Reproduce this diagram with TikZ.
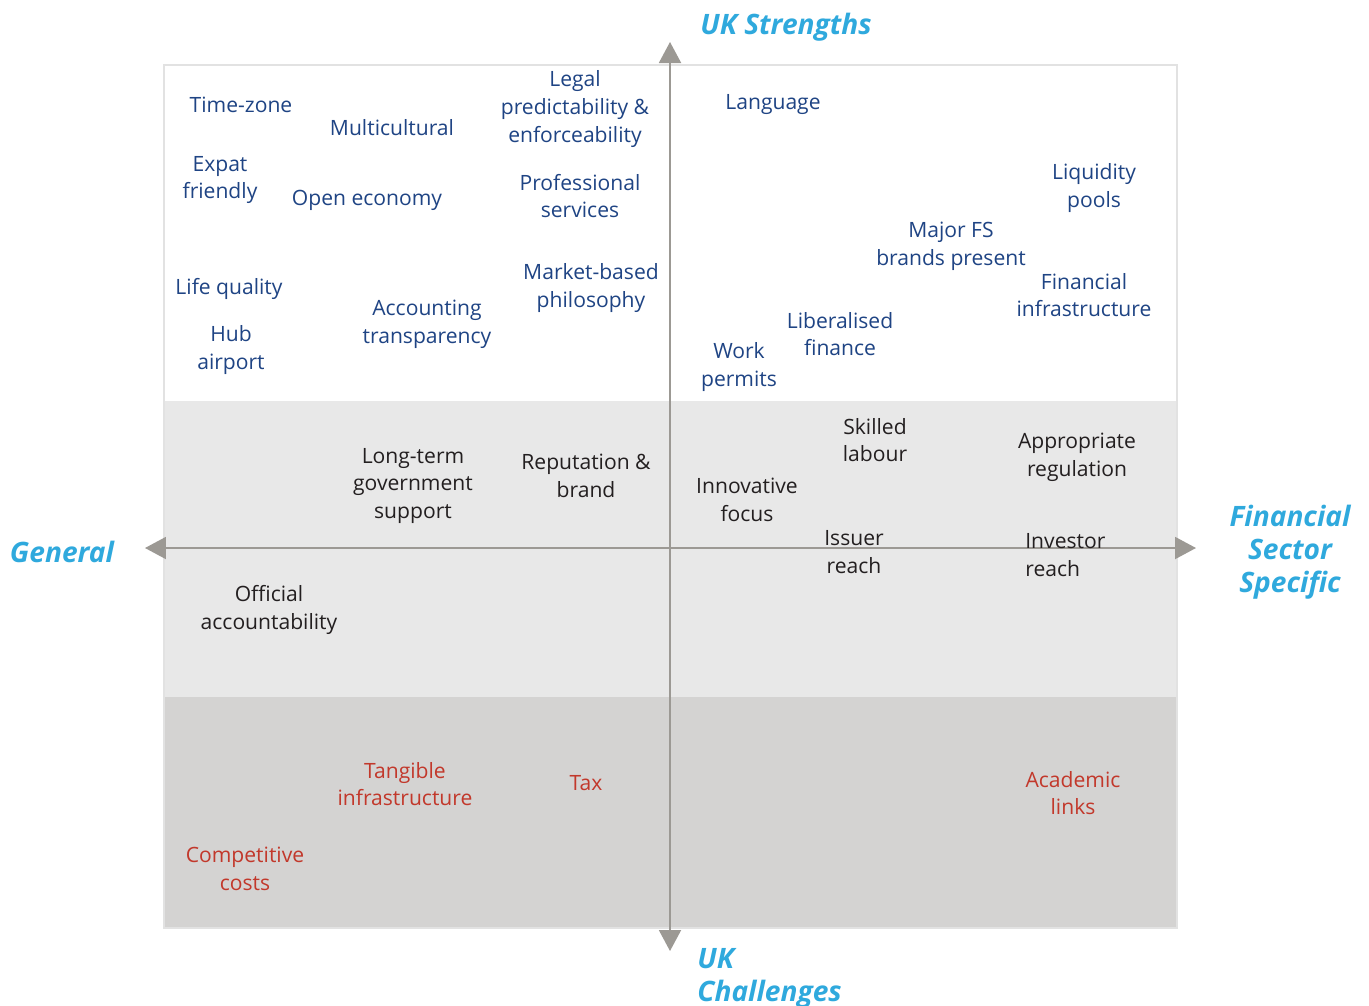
\documentclass[tikz,border=0pt]{standalone}
\usepackage{fontspec}
\setmainfont{Open Sans}
\usetikzlibrary{arrows.meta}
\definecolor{fsblue}{HTML}{1F4484}
\definecolor{fsred}{HTML}{C2382B}
\definecolor{fscyan}{HTML}{2FA9DD}
\definecolor{fsgrey}{HTML}{9C9994}
\definecolor{fsblack}{HTML}{231F20}
\definecolor{midband}{HTML}{E8E8E8}
\definecolor{lowband}{HTML}{D4D3D2}
\definecolor{frameline}{HTML}{E2E2E2}
\begin{document}
\begin{tikzpicture}[x=0.02cm,y=-0.02cm]
  \tikzstyle{every node}=[font=\fontsize{12}{15.8}\selectfont, align=center, inner sep=0pt]
  \tikzstyle{item}=[yshift=-1.7pt]
  \tikzstyle{strength}=[item, text=fsblue]
  \tikzstyle{neutral}=[item, text=fsblack]
  \tikzstyle{challenge}=[item, text=fsred]
  \tikzstyle{heading}=[item, text=fscyan, font=\fontsize{16}{18.8}\selectfont\bfseries\itshape]
  \tikzstyle{axis}=[fsgrey, line width=1.1pt, {Triangle[width=0.44cm,length=0.42cm]}-{Triangle[width=0.44cm,length=0.42cm]}]
  \useasboundingbox (0,0) rectangle (1369,1005);
  \fill[white] (0,0) rectangle (1369,1005);
  \fill[midband] (164,401) rectangle (1177,697);
  \fill[lowband] (164,697) rectangle (1177,928);
  \draw[frameline, line width=1pt] (164,65) rectangle (1177,928);
  % axes
  \coordinate (top) at (670,42);
  \coordinate (bottom) at (670,951);
  \coordinate (left) at (145,548);
  \coordinate (right) at (1196,548);
  \draw[axis] (bottom) -- (top);
  \draw[axis] (left) -- (right);
  \node[heading] (strengths) at (786,24) {UK Strengths};
  \node[heading, align=left, anchor=north west] (challenges) at (697,945) {UK\\Challenges};
  \node[heading] (general) at (62,549) {General};
  \node[heading] (specific) at (1290,549) {Financial\\Sector\\Specific};
  % UK strengths
  \node[strength] (timezone) at (241,102) {Time-zone};
  \node[strength] (multi) at (392,125) {Multicultural};
  \node[strength] (legal) at (575,106) {Legal\\predictability \&\\enforceability};
  \node[strength] (language) at (773,102) {Language};
  \node[strength] (expat) at (220,177) {Expat\\friendly};
  \node[strength] (open) at (367,197) {Open economy};
  \node[strength] (prof) at (580,193) {Professional\\services};
  \node[strength] (liquidity) at (1094,185) {Liquidity\\pools};
  \node[strength] (brands) at (951,243) {Major FS\\brands present};
  \node[strength] (fininfra) at (1084,292) {Financial\\infrastructure};
  \node[strength] (life) at (229,286) {Life quality};
  \node[strength] (accounting) at (427,321) {Accounting\\transparency};
  \node[strength] (market) at (591,285) {Market-based\\philosophy};
  \node[strength] (liberal) at (840,331) {Liberalised\\finance};
  \node[strength] (hub) at (231,347) {Hub\\airport};
  \node[strength] (work) at (739,364) {Work\\permits};
  % neutral
  \node[neutral] (skilled) at (875,437) {Skilled\\labour};
  \node[neutral] (regulation) at (1077,454) {Appropriate\\regulation};
  \node[neutral] (longterm) at (413,483) {Long-term\\government\\support};
  \node[neutral] (reputation) at (586,473) {Reputation \&\\brand};
  \node[neutral] (innovative) at (747,497) {Innovative\\focus};
  \node[neutral] (issuer) at (854,549) {Issuer\\reach};
  \node[neutral, align=left, anchor=west] (investor) at (1025,552) {Investor\\reach};
  \node[neutral] (official) at (269,607) {Official\\accountability};
  % UK challenges
  \node[challenge] (tangible) at (405,781) {Tangible\\infrastructure};
  \node[challenge] (tax) at (586,780) {Tax};
  \node[challenge] (academic) at (1073,790) {Academic\\links};
  \node[challenge] (costs) at (245,866) {Competitive\\costs};
\end{tikzpicture}
\end{document}
